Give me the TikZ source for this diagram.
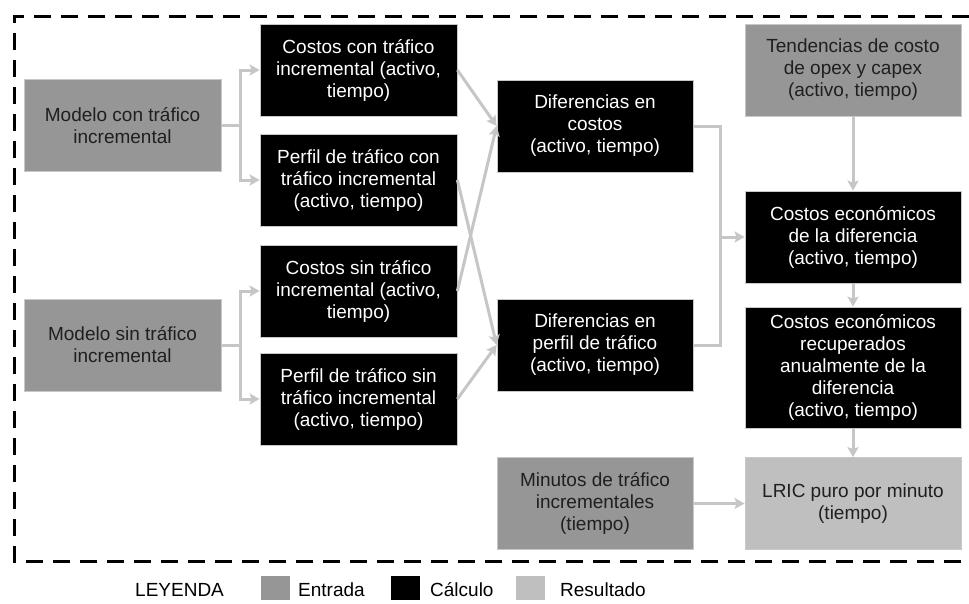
\documentclass[tikz,border=0pt]{standalone}
\usepackage{fontspec}
\setmainfont{Liberation Sans}
\usepackage{xcolor}
\usetikzlibrary{arrows.meta}
\definecolor{entrada}{HTML}{969696}
\definecolor{resultado}{HTML}{BFBFBF}
\definecolor{boxline}{HTML}{C8C8C8}
\definecolor{flowgray}{HTML}{C6C6C6}
\newcommand{\boxfont}{\fontsize{19}{22}\selectfont}

\begin{document}
\begin{tikzpicture}[x=1pt,y=-1pt,every node/.style={font=\boxfont,align=center,inner sep=0pt}]
	\useasboundingbox (0,0) rectangle (969,603);
	\tikzset{
		inbox/.style={fill=entrada,draw=boxline,line width=.8pt,text=black!88,minimum height=92pt},
		calcbox/.style={fill=black,draw=boxline,line width=.8pt,text=white,minimum height=92pt},
		outbox/.style={fill=resultado,draw=boxline,line width=.8pt,text=black!88,minimum height=92pt},
		swatch/.style={minimum width=29pt,minimum height=24pt},
		legtext/.style={anchor=base west,text depth=0pt,align=left}
	}
	% frame
	\draw[line width=3pt,dash pattern=on 17pt off 10pt] (969,16) -- (14,16) -- (14,561) -- (969,561);
	
	\node[inbox,minimum width=197pt] (modcon) at (122.5,125.5){Modelo con tráfico\\incremental};
	\node[inbox,minimum width=197pt] (modsin) at (122.5,345){Modelo sin tráfico\\incremental};
	\node[calcbox,minimum width=197pt] (costcon) at (358.5,70){Costos con tráfico\\incremental (activo,\\tiempo)};
	\node[calcbox,minimum width=197pt] (perfcon) at (358.5,180){Perfil de tráfico con\\tráfico incremental\\(activo, tiempo)};
	\node[calcbox,minimum width=197pt] (costsin) at (358.5,291){Costos sin tráfico\\incremental (activo,\\tiempo)};
	\node[calcbox,minimum width=197pt] (perfsin) at (358.5,399){Perfil de tráfico sin\\tráfico incremental\\(activo, tiempo)};
	\node[calcbox,minimum width=196pt] (difcost) at (595,126){Diferencias en\\costos\\(activo, tiempo)};
	\node[calcbox,minimum width=196pt] (difperf) at (595,345){Diferencias en\\perfil de tráfico\\(activo, tiempo)};
	\node[inbox,minimum width=196pt] (minutos) at (595,503.5){Minutos de tráfico\\incrementales\\(tiempo)};
	\node[inbox,minimum width=216pt] (tend) at (853,70){Tendencias de costo\\de opex y capex\\(activo, tiempo)};
	\node[calcbox,minimum width=216pt] (costecon) at (853,237){Costos económicos\\de la diferencia\\(activo, tiempo)};
	\node[calcbox,minimum width=216pt,minimum height=121pt] (recup) at (853,367.5){Costos económicos\\recuperados\\anualmente de la\\diferencia\\(activo, tiempo)};
	\node[outbox,minimum width=216pt] (lric) at (853,503.5){LRIC puro por minuto\\(tiempo)};
	\coordinate (merge) at (720,237);
	
	\begin{scope}[draw=flowgray,line width=3pt,flow/.style={-{Stealth[length=10pt,width=11pt,inset=2pt]}}]
	%split edges
	\draw[flow] (modcon.east) -- ++(19,0) |- (costcon.west);
	\draw[flow] (modcon.east) -- ++(19,0) |- (perfcon.west);
	\draw[flow] (modsin.east) -- ++(19,0) |- (costsin.west);
	\draw[flow] (modsin.east) -- ++(19,0) |- (perfsin.west);
	%crossing edges
	\draw[flow] (costcon.east) -- (difcost.west);
	\draw[flow] (costsin.east) -- (difcost.west);
	\draw[flow] (perfcon.east) -- (difperf.west);
	\draw[flow] (perfsin.east) -- (difperf.west);
	%merge
	\draw (difcost.east) -| (merge) |- (difperf.east);
	\draw[flow] (merge) -- (costecon.west);
	%right column
	\draw[flow] (tend.south) -- (costecon.north);
	\draw[flow] (costecon.south) -- (recup.north);
	\draw[flow] (recup.south) -- (lric.north);
	\draw[flow] (minutos.east) -- (lric.west);
	\end{scope}
	
	% legend
	\node[legtext] (leyenda) at (135,596){LEYENDA};
	\node[swatch,fill=entrada] (swin) at (275.5,588){};
	\node[legtext] (lbin) at (298,596){Entrada};
	\node[swatch,fill=black] (swcalc) at (405,588){};
	\node[legtext] (lbcalc) at (430,596){Cálculo};
	\node[swatch,fill=resultado] (swout) at (530.5,588){};
	\node[legtext] (lbout) at (560,596){Resultado};
\end{tikzpicture}
\end{document}
